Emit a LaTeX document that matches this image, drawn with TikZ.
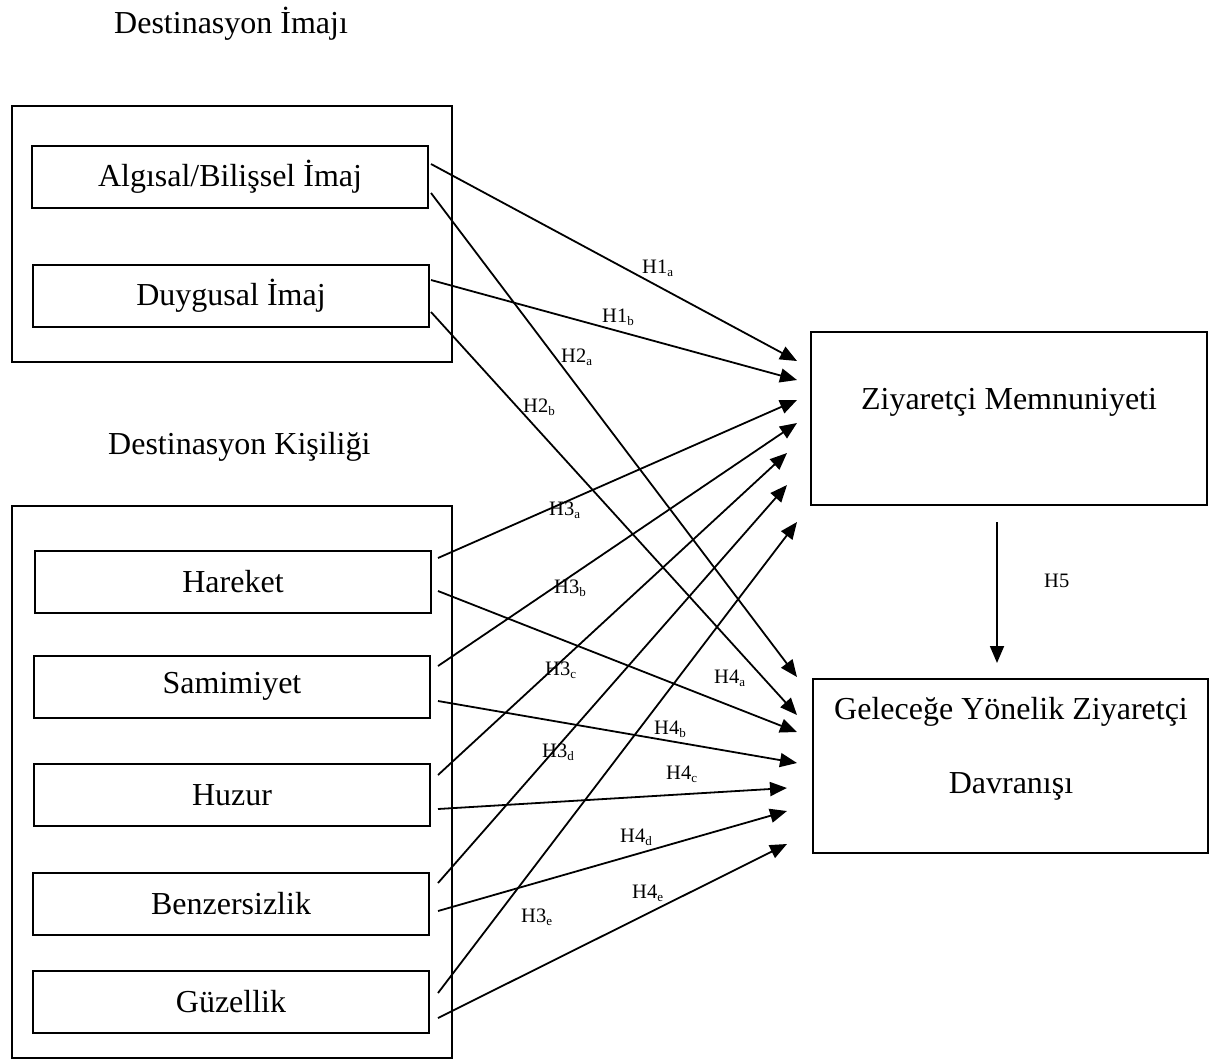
\documentclass[tikz,border=0pt]{standalone}
\usepackage{fontspec}
\setmainfont{Liberation Serif}
\usetikzlibrary{arrows.meta}
\newcommand\hsub[1]{\raisebox{-3pt}{\fontsize{13}{13}\selectfont #1}}
\begin{document}
\begin{tikzpicture}[x=1pt,y=-1pt,
  frame/.style={draw, line width=2pt},
  box/.style={draw, line width=2pt, minimum width=396pt, minimum height=62pt, inner sep=0pt, font=\fontsize{32}{38}\selectfont},
  bigbox/.style={draw, line width=2pt, minimum width=396pt, minimum height=174pt, inner sep=0pt},
  btext/.style={anchor=base, inner sep=0pt, font=\fontsize{32}{38}\selectfont},
  hlab/.style={anchor=base west, inner sep=0pt, font=\fontsize{20.5}{24}\selectfont},
  arr/.style={line width=1.8pt, -{Triangle[length=17pt,width=14pt]}}]
\useasboundingbox (0,0) rectangle (1213,1061);
% titles
\node[btext, anchor=base west] (t1) at (114,33) {Destinasyon İmajı};
\node[btext, anchor=base west] (t2) at (108,454) {Destinasyon Kişiliği};
% outer frames
\draw[frame] (12,106) rectangle (452,362);
\draw[frame] (12,506) rectangle (452,1058);
% inner boxes
\node[box] (alg) at (230,177) {Algısal/Bilişsel İmaj};
\node[box] (duy) at (231,295.5) {Duygusal İmaj};
\node[box] (har) at (233,582) {Hareket};
\node[box] (sam) at (232,686.5) {Samimiyet};
\node[box] (huz) at (232,795) {Huzur};
\node[box] (ben) at (231,903.5) {Benzersizlik};
\node[box] (guz) at (231,1002) {Güzellik};
% right boxes
\node[bigbox, minimum height=173pt] (zm) at (1009,418.5) {};
\node[btext] (zmt) at (1009,409) {Ziyaretçi Memnuniyeti};
\node[bigbox, minimum width=395pt] (gel) at (1010.5,766) {};
\node[btext] (gel1) at (1011,719) {Geleceğe Yönelik Ziyaretçi};
\node[btext] (gel2) at (1011,793) {Davranışı};
% arrows to Ziyaretci Memnuniyeti
\draw[arr] ([shift={(2,-13)}]alg.east) -- ([shift={(-13,-57.5)}]zm.west);
\draw[arr] ([shift={(1,-15.5)}]duy.east) -- ([shift={(-13,-38.5)}]zm.west);
\draw[arr] ([shift={(6,-24)}]har.east) -- ([shift={(-13,-18.5)}]zm.west);
\draw[arr] ([shift={(7,-20.5)}]sam.east) -- ([shift={(-13,4.5)}]zm.west);
\draw[arr] ([shift={(7,-20)}]huz.east) -- ([shift={(-23,34.5)}]zm.west);
\draw[arr] ([shift={(8,-20.5)}]ben.east) -- ([shift={(-23,66.5)}]zm.west);
\draw[arr] ([shift={(8,-9)}]guz.east) -- ([shift={(-13,103.5)}]zm.west);
% arrows to Gelecege
\draw[arr] ([shift={(2,16)}]alg.east) -- ([shift={(-15,-89)}]gel.west);
\draw[arr] ([shift={(1,16.5)}]duy.east) -- ([shift={(-15,-51)}]gel.west);
\draw[arr] ([shift={(6,9)}]har.east) -- ([shift={(-15,-34)}]gel.west);
\draw[arr] ([shift={(7,14.5)}]sam.east) -- ([shift={(-15,-3)}]gel.west);
\draw[arr] ([shift={(7,14)}]huz.east) -- ([shift={(-25,22)}]gel.west);
\draw[arr] ([shift={(8,7.5)}]ben.east) -- ([shift={(-25,45)}]gel.west);
\draw[arr] ([shift={(8,16)}]guz.east) -- ([shift={(-25,78)}]gel.west);
% H5
\draw[arr] ([shift={(-12,16)}]zm.south) -- ([shift={(-13.5,-15)}]gel.north);
% labels
\node[hlab] (h1a) at (642,273) {H1\hsub{a}};
\node[hlab] (h1b) at (602,322) {H1\hsub{b}};
\node[hlab] (h2a) at (561,362) {H2\hsub{a}};
\node[hlab] (h2b) at (523,412) {H2\hsub{b}};
\node[hlab] (h3a) at (549,515) {H3\hsub{a}};
\node[hlab] (h3b) at (554,593) {H3\hsub{b}};
\node[hlab] (h3c) at (545,675) {H3\hsub{c}};
\node[hlab] (h3d) at (542,757) {H3\hsub{d}};
\node[hlab] (h3e) at (521,922) {H3\hsub{e}};
\node[hlab] (h4a) at (714,683) {H4\hsub{a}};
\node[hlab] (h4b) at (654,734) {H4\hsub{b}};
\node[hlab] (h4c) at (666,779) {H4\hsub{c}};
\node[hlab] (h4d) at (620,842) {H4\hsub{d}};
\node[hlab] (h4e) at (632,898) {H4\hsub{e}};
\node[hlab] (h5) at (1044,587) {H5};
\end{tikzpicture}
\end{document}
